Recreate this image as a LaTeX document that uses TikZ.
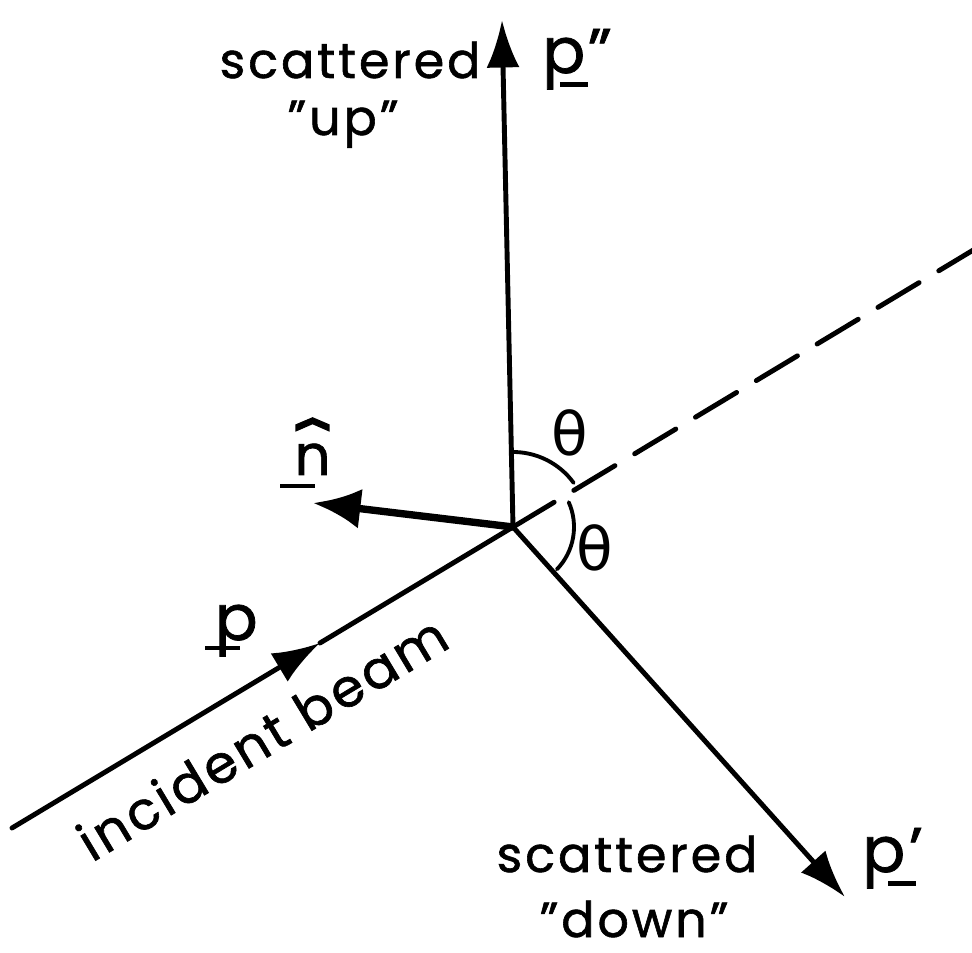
\documentclass[tikz,border=0pt]{standalone}
\usepackage{fontspec}
\setmainfont{Poppins}[LetterSpace=6.0, FakeBold=1.2]
\newfontfamily\thetafont{DejaVu Sans}
\usetikzlibrary{arrows.meta}
\newcommand{\wordsize}{\fontsize{28}{30}\selectfont}
\newcommand{\symsize}{\fontsize{36}{38}\selectfont}
\newcommand{\vecbar}{\raisebox{-0.22em}{\rule{0.44em}{0.07em}}}
\newcommand{\hatn}{\ooalign{n\cr\hidewidth\raisebox{-0.11em}{\scalebox{2.1}[1.5]{ˆ}}\hidewidth\cr}}

\begin{document}
\begin{tikzpicture}[x=0.02cm, y=0.02cm, line width=2.8pt, line cap=round,
  headarrow/.style={-{Latex[length=0.95cm,width=0.66cm]}},
  wordlabel/.style={font=\wordsize, inner sep=0pt},
  vecsym/.style={font=\symsize, inner sep=0pt},
  anglesym/.style={font=\thetafont\fontsize{34}{36}\selectfont, inner sep=0pt}]
  \useasboundingbox (0,0) rectangle (972,952);

  % Define the scattering point and the ends of the rays
  \coordinate (O) at (513,425);
  \coordinate (U) at (502,932);
  \coordinate (N) at (313,449);
  \coordinate (D) at (845,55);
  \coordinate (B) at (12,124);
  \coordinate (M) at (320,309);
  \coordinate (E) at (975,703);

  % Draw the incident beam and its forward continuation
  \draw[headarrow] (B) -- (M);
  \draw (M) -- (O);
  \draw[dash pattern=on 0.96cm off 0.46cm] (O) -- (E);

  % Draw the scattered rays and the normal
  \draw[headarrow] (O) -- (U);
  \draw[headarrow] (O) -- (D);
  \draw[line width=4.2pt, -{Latex[length=0.95cm,width=0.8cm]}] (O) -- (N);

  % Draw the two angles
  \draw[line width=2.2pt] (O) ++(91:75) arc[start angle=91, end angle=36, radius=75];
  \draw[line width=2.2pt] (O) ++(24:61) arc[start angle=24, end angle=-44, radius=61];
  \node[anglesym] (thup) at (570,519) {θ};
  \node[anglesym] (thdown) at (595,404) {θ};

  % Labels of the rays
  \node[wordlabel, anchor=base] (scup) at (350,874) {scattered};
  \node[wordlabel, anchor=base] (up) at (343,817) {"up"};
  \node[vecsym, anchor=base west] (pup) at (540,879) {p\kern-0.4em\vecbar''};
  \node[wordlabel, anchor=base] (scdown) at (627,80) {scattered};
  \node[wordlabel, anchor=base] (down) at (634,15) {"down"};
  \node[vecsym, anchor=base west] (pdown) at (860,80) {p'\kern-0.55em\vecbar};
  \node[vecsym, font=\fontsize{32}{34}\selectfont, anchor=base west] (nhat) at (278,477)
    {\raisebox{-0.23em}{\rule{0.62em}{0.07em}}\kern-0.37em\hatn};
  \node[vecsym, anchor=base west] (pin) at (203,312)
    {\raisebox{-0.16em}{\rule{0.55em}{0.07em}}\kern-0.4em p};
  \node[wordlabel, font=\fontsize{30}{32}\selectfont, rotate=31, anchor=base west] (beam)
    at (90,88) {incident beam};
\end{tikzpicture}
\end{document}
